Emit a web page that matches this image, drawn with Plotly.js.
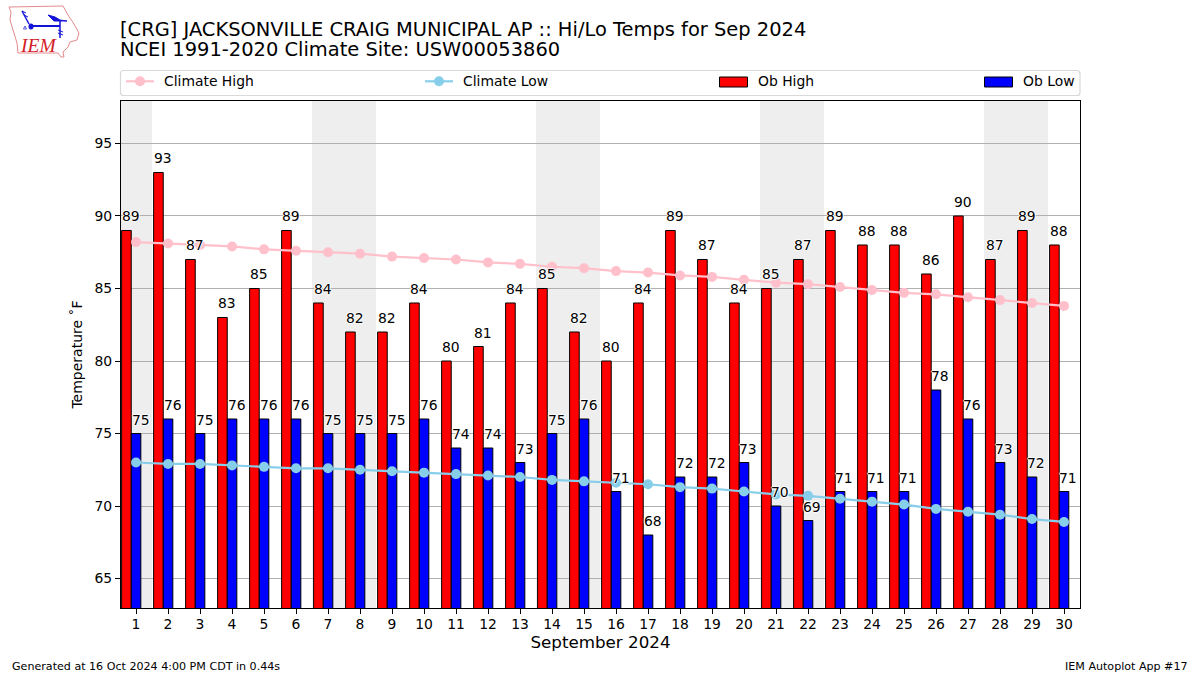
<!DOCTYPE html>
<html><head><meta charset="utf-8">
<script src="https://cdn.plot.ly/plotly-3.0.1.min.js"></script>
<style>html,body{margin:0;padding:0;background:#fff}</style></head>
<body><div id="chart" style="width:1200px;height:675px"></div>
<script>
const days = [1,2,3,4,5,6,7,8,9,10,11,12,13,14,15,16,17,18,19,20,21,22,23,24,25,26,27,28,29,30];
const obHigh = [89,93,87,83,85,89,84,82,82,84,80,81,84,85,82,80,84,89,87,84,85,87,89,88,88,86,90,87,89,88];
const obLow = [75,76,75,76,76,76,75,75,75,76,74,74,73,75,76,71,68,72,72,73,70,69,71,71,71,78,76,73,72,71];
const climateHigh = [88.2,88.1,88.0,87.9,87.7,87.6,87.5,87.4,87.2,87.1,87.0,86.8,86.7,86.5,86.4,86.2,86.1,85.9,85.8,85.6,85.4,85.3,85.1,84.9,84.7,84.6,84.4,84.2,84.0,83.8];
const climateLow = [73.0,72.9,72.9,72.8,72.7,72.6,72.6,72.5,72.4,72.3,72.2,72.1,72.0,71.8,71.7,71.6,71.5,71.3,71.2,71.0,70.8,70.7,70.5,70.3,70.1,69.8,69.6,69.4,69.1,68.9];
const weekends = [[0.5,1.5],[6.5,8.5],[13.5,15.5],[20.5,22.5],[27.5,29.5]];
const yTicks = [65,70,75,80,85,90,95];
const FONT = 'DejaVu Sans';
const W=1200,H=675,L=121,R=1080,T=101,B=608;
const px = x => (x-L)/(R-L), py = y => (B-y)/(B-T);
const halo = '-1px 0 1px #fff,1px 0 1px #fff,0 -1px 1px #fff,0 1px 1px #fff';
const traces = [
 {type:'bar',name:'Ob High',x:days,y:obHigh,width:0.3,offset:-0.45,marker:{color:'#ff0000',line:{color:'#000',width:1}}},
 {type:'bar',name:'Ob Low',x:days,y:obLow,width:0.3,offset:-0.15,marker:{color:'#0000ff',line:{color:'#000',width:1}}},
 {type:'scatter',mode:'lines+markers',name:'Climate High',x:days,y:climateHigh,line:{color:'#ffc0cb',width:2.2},marker:{color:'#ffc0cb',size:10}},
 {type:'scatter',mode:'lines+markers',name:'Climate Low',x:days,y:climateLow,line:{color:'#87ceeb',width:2.2},marker:{color:'#87ceeb',size:10}}
];
const P=(x,y)=>px(x).toFixed(5)+','+py(y).toFixed(5);
const poly=(pts,close)=>'M'+pts.map(p=>P(p[0],p[1])).join(' L')+(close?' Z':'');
const pshape=(o)=>Object.assign({xref:'paper',yref:'paper'},o);
const rect=(x0,y0,x1,y1,o)=>pshape(Object.assign({type:'rect',x0:px(x0),x1:px(x1),y0:py(y1),y1:py(y0)},o));
const shapes = weekends.map(w=>({type:'rect',layer:'below',xref:'x',yref:'paper',x0:w[0],x1:w[1],y0:0,y1:1,fillcolor:'#eeeeee',line:{width:0}}));
// legend frame (rounded) and swatches
const lf={x0:120.5,x1:1080,y0:70.5,y1:95.5,r:3};
shapes.push(pshape({type:'path',path:'M'+P(lf.x0+lf.r,lf.y0)+' L'+P(lf.x1-lf.r,lf.y0)+' Q'+P(lf.x1,lf.y0)+' '+P(lf.x1,lf.y0+lf.r)+' L'+P(lf.x1,lf.y1-lf.r)+' Q'+P(lf.x1,lf.y1)+' '+P(lf.x1-lf.r,lf.y1)+' L'+P(lf.x0+lf.r,lf.y1)+' Q'+P(lf.x0,lf.y1)+' '+P(lf.x0,lf.y1-lf.r)+' L'+P(lf.x0,lf.y0+lf.r)+' Q'+P(lf.x0,lf.y0)+' '+P(lf.x0+lf.r,lf.y0)+' Z',line:{color:'#d9d9d9',width:1.2},fillcolor:'#ffffff'}));
shapes.push(pshape({type:'line',x0:px(126),x1:px(154),y0:py(81.3),y1:py(81.3),line:{color:'#ffc0cb',width:2.2}}));
shapes.push(pshape({type:'circle',x0:px(135),x1:px(145),y0:py(86.3),y1:py(76.3),fillcolor:'#ffc0cb',line:{width:0}}));
shapes.push(pshape({type:'line',x0:px(425),x1:px(453),y0:py(81.3),y1:py(81.3),line:{color:'#87ceeb',width:2.2}}));
shapes.push(pshape({type:'circle',x0:px(434),x1:px(444),y0:py(86.3),y1:py(76.3),fillcolor:'#87ceeb',line:{width:0}}));
shapes.push(rect(719.5,77,747.5,87,{fillcolor:'#ff0000',line:{color:'#000',width:1}}));
shapes.push(rect(984.5,77,1012.5,87,{fillcolor:'#0000ff',line:{color:'#000',width:1}}));
// IEM logo: Iowa outline and station symbol with wind barbs
const blue='#1414d8';
shapes.push(pshape({type:'path',path:poly([[9,7],[63,6],[68,15],[74,24],[79,33],[77,40],[70,42],[68,47],[63,52],[64,57],[61,57],[58,53],[18,53],[17,43],[10,20],[11,12]],true),line:{color:'#e58a8e',width:1},fillcolor:'rgba(255,255,255,0)'}));
shapes.push(pshape({type:'path',path:poly([[31,26],[60,26]]),line:{color:blue,width:2}}));
shapes.push(pshape({type:'path',path:poly([[29,24],[22,11]]),line:{color:blue,width:1.5}}));
shapes.push(pshape({type:'path',path:poly([[22,11],[26,13]]),line:{color:blue,width:1}}));
shapes.push(pshape({type:'path',path:poly([[24,15],[28,17]]),line:{color:blue,width:1}}));
shapes.push(pshape({type:'path',path:poly([[48,15],[55,17],[60,20],[67,21],[54,21]],true),line:{color:blue,width:1},fillcolor:blue}));
shapes.push(pshape({type:'path',path:poly([[60,21],[60,38]]),line:{color:blue,width:1.5}}));
shapes.push(pshape({type:'path',path:poly([[58,30],[63,32]]),line:{color:blue,width:1}}));
shapes.push(pshape({type:'path',path:poly([[58,33],[63,35]]),line:{color:blue,width:1}}));
shapes.push(pshape({type:'circle',x0:px(28.5),x1:px(33.5),y0:py(29.5),y1:py(23.5),fillcolor:blue,line:{width:0}}));
shapes.push(pshape({type:'path',path:poly([[25,26],[23.5,29],[26.5,29]],true),line:{color:blue,width:0.7},fillcolor:'#fff'}));
const note=(x,y,text,size,o)=>Object.assign({xref:'paper',yref:'paper',x:px(x),y:py(y),text:text,showarrow:false,xanchor:'left',yanchor:'middle',font:{family:FONT,size:size,color:'#000'}},o||{});
const valueLabel=(x,y)=>({xref:'x',yref:'y',x:x,y:y,text:String(y),showarrow:false,xanchor:'center',yanchor:'bottom',yshift:5,font:{family:FONT,size:13.9,color:'#000',shadow:halo},borderpad:0});
const annotations=[
 ...days.map((d,i)=>valueLabel(d-0.16,obHigh[i])),
 ...days.map((d,i)=>valueLabel(d+0.14,obLow[i])),
 note(162,81,'Climate High',13.9),
 note(461,81,'Climate Low',13.9),
 note(756,81,'Ob High',13.9),
 note(1021,81,'Ob Low',13.9),
 note(10,666,'Generated at 16 Oct 2024 4:00 PM CDT in 0.44s',11.1),
 note(1190,666,'IEM Autoplot App #17',11.1,{xanchor:'right'}),
 note(18,45,'IEM',19.5,{font:{family:'Liberation Serif',size:19.5,color:'#d42027',style:'italic'}}),
 note(118,50,'NCEI 1991-2020 Climate Site: USW00053860',19.45)
];
const layout={
 width:W,height:H,paper_bgcolor:'#fff',plot_bgcolor:'#fff',showlegend:false,barmode:'overlay',
 margin:{l:L,r:W-R,t:T,b:H-B,pad:0},
 title:{text:'[CRG] JACKSONVILLE CRAIG MUNICIPAL AP :: Hi/Lo Temps for Sep 2024',x:0,xref:'paper',xanchor:'left',y:1-29/H,yref:'container',yanchor:'middle',pad:{l:-1},font:{family:FONT,size:19.45,color:'#000'}},
 font:{family:FONT,size:13.9,color:'#000'},
 xaxis:{range:[0.53,30.5],tickmode:'array',tickvals:days,ticktext:days.map(String),ticks:'outside',ticklen:5,tickwidth:1,tickcolor:'#000',showgrid:false,zeroline:false,showline:true,linecolor:'#000',linewidth:1,mirror:true,tickangle:0,ticklabelstandoff:-2,tickfont:{family:FONT,size:13.9},title:{text:'September 2024',font:{family:FONT,size:16.7},standoff:4}},
 yaxis:{range:[62.966,97.93],tickmode:'array',tickvals:yTicks,ticktext:yTicks.map(String),ticks:'outside',ticklen:5,tickwidth:1,tickcolor:'#000',showgrid:true,gridcolor:'#b0b0b0',gridwidth:1,zeroline:false,showline:true,linecolor:'#000',linewidth:1,mirror:true,tickfont:{family:FONT,size:13.9},title:{text:'Temperature \u02DAF',font:{family:FONT,size:14},standoff:8}},
 shapes:shapes,annotations:annotations
};
Plotly.newPlot('chart',traces,layout,{displayModeBar:false,staticPlot:true});
</script></body></html>
